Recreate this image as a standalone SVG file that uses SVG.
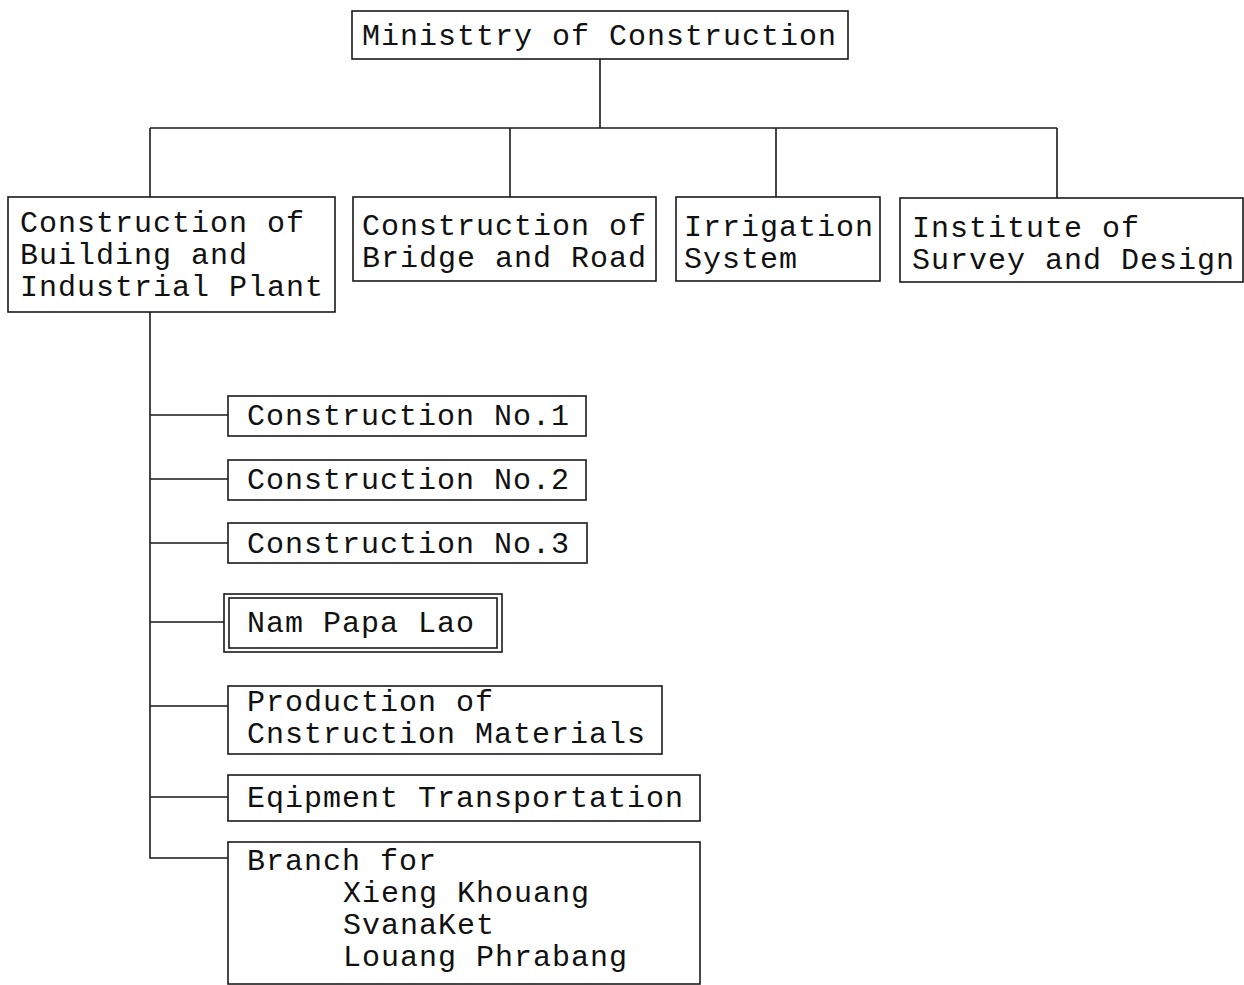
<svg xmlns="http://www.w3.org/2000/svg" width="1244" height="985" viewBox="0 0 1244 985">
<style>
.box{fill:#fff;stroke:#1a1a1a;stroke-width:1.6}
.ln{fill:none;stroke:#1a1a1a;stroke-width:1.6}
text{font-family:"Liberation Mono","Courier New",monospace;font-size:30px;letter-spacing:1px;fill:#111}
</style>
<rect width="1244" height="985" fill="#fff"/>
<g id="connectors">
<path class="ln" d="M600 59 V128 M150 128 H1057 M150 128 V197 M510 128 V197 M776 128 V197 M1057 128 V198"/>
<path class="ln" d="M150 312 V858 H228 M150 415 H228 M150 479 H228 M150 543 H228 M150 622 H224 M150 706 H228 M150 797 H228"/>
</g>
<g id="ministry">
<rect class="box" x="352" y="11" width="496" height="48"/>
<text x="362" y="45">Ministtry of Construction</text>
</g>
<g id="building">
<rect class="box" x="8" y="197" width="327" height="115"/>
<text x="20" y="232">Construction of</text>
<text x="20" y="264">Building and</text>
<text x="20" y="296">Industrial Plant</text>
</g>
<g id="bridge">
<rect class="box" x="353" y="197" width="303" height="84"/>
<text x="362" y="235">Construction of</text>
<text x="362" y="267">Bridge and Road</text>
</g>
<g id="irrigation">
<rect class="box" x="676" y="197" width="204" height="84"/>
<text x="684" y="236">Irrigation</text>
<text x="684" y="268">System</text>
</g>
<g id="institute">
<rect class="box" x="900" y="198" width="343" height="84"/>
<text x="912" y="237">Institute of</text>
<text x="912" y="269">Survey and Design</text>
</g>
<g id="no1">
<rect class="box" x="228" y="396" width="358" height="40"/>
<text x="247" y="425">Construction No.1</text>
</g>
<g id="no2">
<rect class="box" x="228" y="460" width="358" height="40"/>
<text x="247" y="489">Construction No.2</text>
</g>
<g id="no3">
<rect class="box" x="228" y="523" width="359" height="40"/>
<text x="247" y="553">Construction No.3</text>
</g>
<g id="nampapa">
<rect class="box" x="224" y="594" width="278" height="58"/>
<rect class="box" x="229" y="598" width="268" height="50"/>
<text x="247" y="632">Nam Papa Lao</text>
</g>
<g id="production">
<rect class="box" x="228" y="686" width="434" height="68"/>
<text x="247" y="711">Production of</text>
<text x="247" y="743">Cnstruction Materials</text>
</g>
<g id="equipment">
<rect class="box" x="228" y="775" width="472" height="46"/>
<text x="247" y="807">Eqipment Transportation</text>
</g>
<g id="branch">
<rect class="box" x="228" y="842" width="472" height="142"/>
<text x="247" y="870">Branch for</text>
<text x="343" y="902">Xieng Khouang</text>
<text x="343" y="934">SvanaKet</text>
<text x="343" y="966">Louang Phrabang</text>
</g>
</svg>
